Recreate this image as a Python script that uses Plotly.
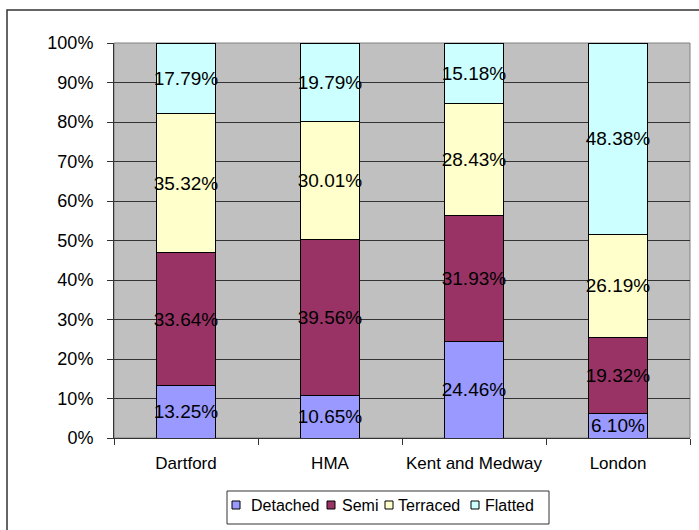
import plotly.graph_objects as go

categories = ["Dartford", "HMA", "Kent and Medway", "London"]
detached = [13.25, 10.65, 24.46, 6.10]
semi = [33.64, 39.56, 31.93, 19.32]
terraced = [35.32, 30.01, 28.43, 26.19]
flatted = [17.79, 19.79, 15.18, 48.38]
y_ticks = [0, 10, 20, 30, 40, 50, 60, 70, 80, 90, 100]
y_tick_labels = [f"{v}%" for v in y_ticks]

series = [
    ("Detached", detached, "#9999FF"),
    ("Semi", semi, "#993366"),
    ("Terraced", terraced, "#FFFFCC"),
    ("Flatted", flatted, "#CCFFFF"),
]

FONT = "Liberation Sans, Arial, sans-serif"

L, R, T, B = 114, 690, 43, 438
W, H = 699, 530
pw, ph = R - L, B - T


def px(x):
    return (x - L) / pw


def py(y):
    return (B - y) / ph


fig = go.Figure()
for name, vals, col in series:
    fig.add_trace(go.Bar(
        name=name, x=categories, y=vals,
        marker=dict(color=col, line=dict(color="black", width=1)),
        text=[f"{v:.2f}%" for v in vals],
        textposition="inside", insidetextanchor="middle", textangle=0,
        constraintext="none", cliponaxis=False,
        textfont=dict(family=FONT, size=19, color="black"),
        hoverinfo="skip", showlegend=False,
    ))

# custom compact legend (layout only)
legend_sq_x = [232, 327, 385, 471]
legend_txt_x = [249, 340, 396, 483]
legend_cy = 505
shapes = [
    dict(type="rect", xref="paper", yref="paper", x0=0, x1=1, y0=0, y1=1,
         line=dict(color="#808080", width=1), layer="below"),
    dict(type="rect", xref="paper", yref="paper",
         x0=px(7), x1=px(720), y0=py(10), y1=py(560),
         line=dict(color="#333333", width=1.5)),
    dict(type="rect", xref="paper", yref="paper",
         x0=px(227), x1=px(549), y0=py(491), y1=py(524),
         line=dict(color="#333333", width=1), fillcolor="white"),
]
annotations = []
for (name, _, col), sx, tx in zip(series, legend_sq_x, legend_txt_x):
    shapes.append(dict(type="rect", xref="paper", yref="paper",
                       x0=px(sx), x1=px(sx + 8), y0=py(legend_cy - 4), y1=py(legend_cy + 4),
                       line=dict(color="black", width=1), fillcolor=col))
    annotations.append(dict(text=name, xref="paper", yref="paper",
                            x=px(tx), y=py(legend_cy), xanchor="left", yanchor="middle",
                            showarrow=False, font=dict(family=FONT, size=16, color="black")))

fig.update_layout(
    width=W, height=H,
    margin=dict(l=L, r=W - R, t=T, b=H - B),
    barmode="stack", bargap=0.597,
    paper_bgcolor="white", plot_bgcolor="#C0C0C0",
    font=dict(family=FONT, size=16, color="black"),
    showlegend=False,
    xaxis=dict(
        type="category", showgrid=False, tickson="boundaries",
        ticks="outside", ticklen=6, tickcolor="#333333",
        showline=True, linecolor="#333333", linewidth=1,
        tickangle=0, automargin=False,
        tickfont=dict(size=17), ticklabelstandoff=10, fixedrange=True,
    ),
    yaxis=dict(
        range=[0, 100.02], tickmode="array", tickvals=y_ticks, ticktext=y_tick_labels,
        showgrid=True, gridcolor="#333333", gridwidth=1,
        ticks="outside", ticklen=6, tickcolor="#333333",
        showline=True, linecolor="#333333", linewidth=1, automargin=False,
        tickfont=dict(size=18), ticklabelstandoff=10, zeroline=False, fixedrange=True,
    ),
    shapes=shapes,
    annotations=annotations,
)

fig.write_html("out.html")
